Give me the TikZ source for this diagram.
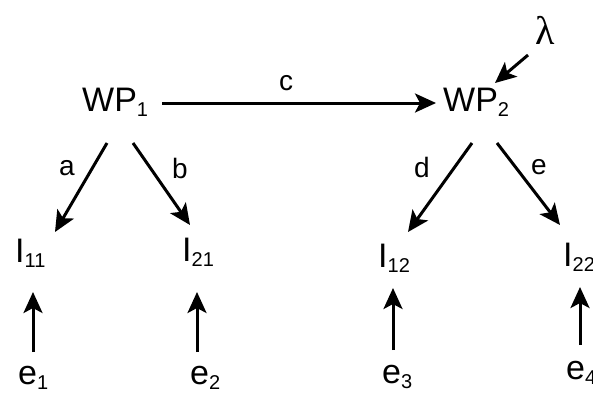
\documentclass[tikz,border=0pt]{standalone}
\usepackage{fontspec}
\setmainfont{Liberation Sans}
\newfontfamily\lamfont{Liberation Serif}
\usetikzlibrary{arrows.meta,calc}
\newcommand\mysub[1]{\raisebox{-5pt}{\fontsize{20}{20}\selectfont #1}}
\begin{document}
\begin{tikzpicture}[x=1pt,y=-1pt,
  lbl/.style={inner sep=0pt,anchor=base west,font=\fontsize{34}{34}\selectfont},
  sm/.style={inner sep=0pt,font=\fontsize{28}{28}\selectfont},
  arr/.style={line width=3pt,-{Stealth[length=21pt,width=19pt,inset=5pt]}}]
\useasboundingbox (0,0) rectangle (593,392);
\node[lbl] (WP1) at (82,111) {WP\mysub{1}};
\node[lbl] (WP2) at (443,111) {WP\mysub{2}};
\node[sm] (c) at (286,83) {c};
\node[inner sep=0pt,font=\fontsize{40}{40}\lamfont] (lam) at (545,30) {λ};
\node[sm] (la) at (67,168) {a};
\node[sm] (lb) at (180,168) {b};
\node[sm] (ld) at (422,167) {d};
\node[sm] (le) at (539,167) {e};
\node[lbl] (I11) at (15,262) {I\mysub{11}};
\node[lbl] (I21) at (182,261) {I\mysub{21}};
\node[lbl] (I12) at (378,267) {I\mysub{12}};
\node[lbl] (I22) at (563,266) {I\mysub{22}};
\node[lbl] (e1) at (18,384) {e\mysub{1}};
\node[lbl] (e2) at (190,384) {e\mysub{2}};
\node[lbl] (e3) at (382,383) {e\mysub{3}};
\node[lbl] (e4) at (566,379) {e\mysub{4}};
\draw[arr] ($(WP1.base west)+(80,-8)$) -- ($(WP2.base west)+(-7,-8)$);
\draw[arr] ($(lam.center)+(-17,25)$) -- ($(WP2.base west)+(52,-28)$);
\draw[arr] ($(WP1.base west)+(25,32)$) -- ($(I11.base west)+(40,-30)$);
\draw[arr] ($(WP1.base west)+(51,32)$) -- ($(I21.base west)+(8,-36)$);
\draw[arr] ($(WP2.base west)+(29,32)$) -- ($(I12.base west)+(30,-35)$);
\draw[arr] ($(WP2.base west)+(54,32)$) -- ($(I22.base west)+(-3,-41)$);
\draw[arr] ($(e1.base west)+(15,-32)$) -- ($(I11.base west)+(18,30)$);
\draw[arr] ($(e2.base west)+(7,-32)$) -- ($(I21.base west)+(15,31)$);
\draw[arr] ($(e3.base west)+(11,-33)$) -- ($(I12.base west)+(15,21)$);
\draw[arr] ($(e4.base west)+(14,-34)$) -- ($(I22.base west)+(17,21)$);
\end{tikzpicture}
\end{document}
